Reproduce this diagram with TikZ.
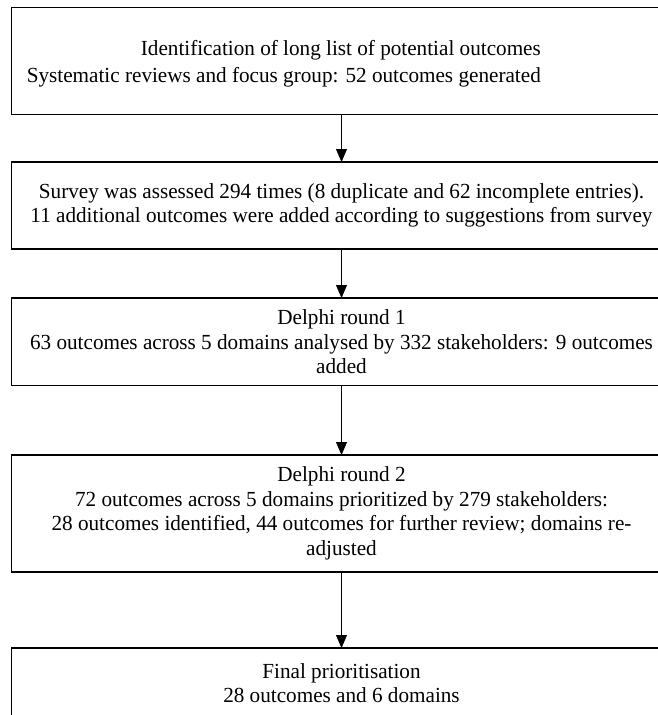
\documentclass[tikz,border=0pt]{standalone}
\usepackage{fontspec}
\setmainfont{Liberation Serif}[FakeStretch=0.985]
\usetikzlibrary{positioning,arrows.meta}

\begin{document}
\begin{tikzpicture}[x=1pt,y=1pt,
	stage/.style={draw,line width=1.6pt,outer sep=0pt,inner sep=0pt,minimum width=660pt,align=center,font=\fontsize{21.5}{24.5}\selectfont},
	flow/.style={line width=0.8pt,-{Triangle[length=13pt,width=11pt]}}]
	\useasboundingbox (0,0) rectangle (658,-715);
	\clip (0,0) rectangle (658,-715);
	\node[stage,minimum height=107pt] (ident) at (341.5,-61) {};
	\node[align=right,anchor=east,inner sep=0pt,font=\fontsize{21.5}{27}\selectfont] (identtext) at ([xshift=199.5pt,yshift=-2.5pt]ident.center)
		{Identification of long list of potential outcomes\\Systematic reviews and focus group: 52 outcomes generated};
	\node[stage,minimum height=87pt,below=47.5pt of ident] (survey)
		{Survey was assessed 294 times (8 duplicate and 62 incomplete entries).\\11 additional outcomes were added according to suggestions from survey};
	\node[stage,minimum height=87.5pt,below=49pt of survey] (round1)
		{Delphi round 1\\63 outcomes across 5 domains analysed by 332 stakeholders: 9 outcomes\\added};
	\node[stage,minimum height=117pt,below=69.5pt of round1] (round2)
		{Delphi round 2\\72 outcomes across 5 domains prioritized by 279 stakeholders:\\28 outcomes identified, 44 outcomes for further review; domains re-\\adjusted};
	\node[stage,minimum height=70pt,below=76pt of round2] (final)
		{Final prioritisation\\28 outcomes and 6 domains};
	\draw[flow] (ident) -- (survey);
	\draw[flow] (survey) -- (round1);
	\draw[flow] (round1) -- (round2);
	\draw[flow] (round2) -- (final);
\end{tikzpicture}
\end{document}
